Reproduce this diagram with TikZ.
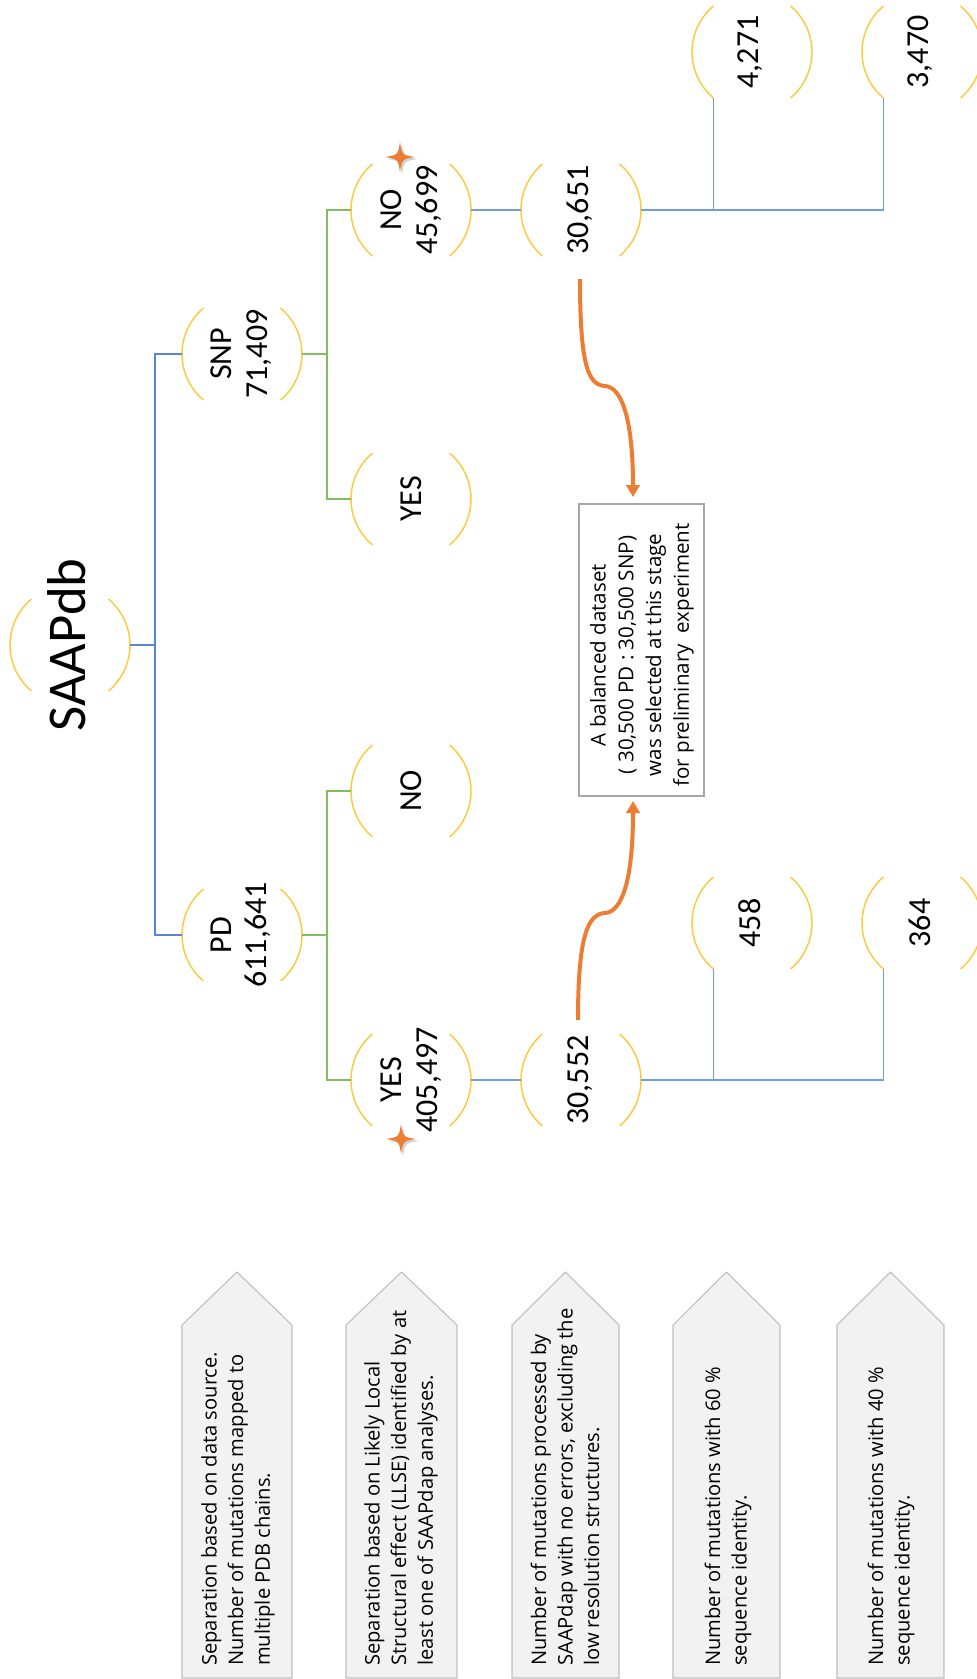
\documentclass[tikz,border=0pt]{standalone}
\usepackage{fontspec}
\setmainfont{Carlito}
\newfontfamily\osf{Open Sans}
\usetikzlibrary{arrows.meta,calc}
\definecolor{arcc}{HTML}{FFC83D}
\definecolor{blueA}{HTML}{5A85D2}
\definecolor{blueB}{HTML}{6E9EDB}
\definecolor{greenA}{HTML}{86BC60}
\definecolor{orangeA}{HTML}{ED7D31}
\definecolor{pentfill}{HTML}{F2F2F2}
\definecolor{pentdraw}{HTML}{BFBFBF}
\definecolor{boxdraw}{HTML}{A6A6A6}
\newcommand\parens[1]{%
  \draw[arcline] (#1.-50) arc[start angle=-50,end angle=50,radius=45pt];
  \draw[arcline] (#1.130) arc[start angle=130,end angle=230,radius=45pt];}
\newcommand\sparkle[2]{%
  \begin{scope}[shift={(#1,#2)}]
    \fill[black,opacity=0.18] (2,-13) .. controls (4,0) .. (18,2) .. controls (4,4) .. (2,18) .. controls (0,4) .. (-13,2) .. controls (0,0) .. cycle;
    \fill[orangeA] (0,-15) .. controls (2,-2) .. (15,0) .. controls (2,2) .. (0,15) .. controls (-2,2) .. (-15,0) .. controls (-2,-2) .. cycle;
  \end{scope}}
\begin{document}
\begin{tikzpicture}[x=0.75pt,y=-0.75pt,
  pc/.style={circle,minimum size=90pt,inner sep=0pt,outer sep=0pt},
  ctext/.style={rotate=90,align=center,inner sep=0pt,font=\fontsize{24}{26.5}\selectfont},
  arcline/.style={draw=arcc,line width=1.1pt},
  bl1/.style={draw=blueA,line width=1.2pt},
  bl2/.style={draw=blueB,line width=1.2pt},
  gr/.style={draw=greenA,line width=1.2pt},
  pent/.style={draw=pentdraw,fill=pentfill,line width=0.8pt},
  ptext/.style={rotate=90,anchor=west,align=left,inner sep=0pt,font=\osf\fontsize{15.1}{19.9}\selectfont},
  orarrow/.style={draw=orangeA,line width=3pt,-{Triangle[length=9pt,width=10pt]}}]
\useasboundingbox (0,0) rectangle (977,1679);

% circles
\node[pc] (saap) at (70,645) {};
\node[pc] (snp) at (242,354) {};
\node[pc] (pd) at (242,935) {};
\node[pc] (no1) at (411,210) {};
\node[pc] (yes1) at (411,499) {};
\node[pc] (no2) at (411,791) {};
\node[pc] (yes2) at (411,1080) {};
\node[pc] (c651) at (581,210) {};
\node[pc] (c552) at (581,1080) {};
\node[pc] (c4271) at (752,52) {};
\node[pc] (c3470) at (922,52) {};
\node[pc] (c458) at (752,923) {};
\node[pc] (c364) at (922,923) {};
\foreach \n in {saap,snp,pd,no1,yes1,no2,yes2,c651,c552,c4271,c3470,c458,c364}{\parens{\n}}

% texts
\node[ctext,font=\fontsize{41}{45}\selectfont] (saapt) at (67,645) {SAAPdb};
\node[ctext] (snpt) at (241,354) {SNP\\71,409};
\node[ctext] (pdt) at (241,935) {PD\\611,641};
\node[ctext] (no1t) at (411,210) {NO\\45,699};
\node[ctext] (yes1t) at (411,499) {YES};
\node[ctext] (no2t) at (411,791) {NO};
\node[ctext] (yes2t) at (411,1080) {YES\\405,497};
\node[ctext] (c651t) at (580,210) {30,651};
\node[ctext] (c552t) at (580,1080) {30,552};
\node[ctext] (c4271t) at (750,52) {4,271};
\node[ctext] (c3470t) at (920,52) {3,470};
\node[ctext] (c458t) at (750,923) {458};
\node[ctext] (c364t) at (920,923) {364};

% connectors
\coordinate (tr) at (155,645);
\draw[bl1] (saap.east) -- (tr);
\draw[bl1] (snp.west) -| (tr) |- (pd.west);
\coordinate (g1) at (327,354);
\coordinate (g2) at (327,935);
\draw[gr] (snp.east) -- (g1);
\draw[gr] (no1.west) -| (g1) |- (yes1.west);
\draw[gr] (pd.east) -- (g2);
\draw[gr] (no2.west) -| (g2) |- (yes2.west);
\draw[bl2] (no1.east) -- (c651.west);
\draw[bl2] (yes2.east) -- (c552.west);
\draw[bl2] (c651.east) -| (c3470.230);
\draw[bl2] (c4271.230) -- (c4271.230 |- c651.east);
\draw[bl2] (c552.east) -| (c364.230);
\draw[bl2] (c458.230) -- (c458.230 |- c552.east);

% stars
\sparkle{400}{157}
\sparkle{401}{1139}

% balanced dataset box
\node[draw=boxdraw,line width=0.8pt,minimum width=93.75pt,minimum height=219pt,inner sep=0pt] (box) at (641.5,650) {};
\node[rotate=90,align=center,inner sep=0pt,font=\osf\fontsize{15.4}{20.8}\selectfont] (boxt) at (642,655) {A balanced dataset\\( 30,500 PD : 30,500 SNP)\\was selected at this stage\\for preliminary\ \ experiment};

% orange arrows
\coordinate (a1s) at (580,279);
\coordinate (a1e) at (633,497);
\coordinate (a2s) at (578,1020);
\coordinate (a2e) at (633,801);
\draw[orarrow] (a1s) .. controls (580,365) and (588,385) .. (605,386) .. controls (622,387) and (633,420) .. (a1e);
\draw[orarrow] (a2s) .. controls (578,935) and (588,914) .. (605,913) .. controls (622,912) and (633,880) .. (a2e);

% pentagons
\draw[pent] (182,1678) -- (182,1325) -- (237,1272) -- (292,1325) -- (292,1678) -- cycle;
\draw[pent] (346,1678) -- (346,1325) -- (401.5,1272) -- (457,1325) -- (457,1678) -- cycle;
\draw[pent] (512,1678) -- (512,1325) -- (565.5,1272) -- (619,1325) -- (619,1678) -- cycle;
\draw[pent] (673,1678) -- (673,1325) -- (726.5,1272) -- (780,1325) -- (780,1678) -- cycle;
\draw[pent] (837,1678) -- (837,1325) -- (890.5,1272) -- (944,1325) -- (944,1678) -- cycle;
\node[ptext] (p1) at (238,1666) {Separation based on data source.\\Number of mutations mapped to\\multiple PDB chains.};
\node[ptext] (p2) at (401,1666) {Separation based on Likely Local\\Structural effect (LLSE) identified by at\\least one of SAAPdap analyses.};
\node[ptext] (p3) at (565,1666) {Number of mutations processed by\\SAAPdap with no errors, excluding the\\low resolution structures.};
\node[ptext] (p4) at (728,1666) {Number of mutations with 60 \%\\sequence identity.};
\node[ptext] (p5) at (891,1666) {Number of mutations with 40 \%\\sequence identity.};
\end{tikzpicture}
\end{document}
